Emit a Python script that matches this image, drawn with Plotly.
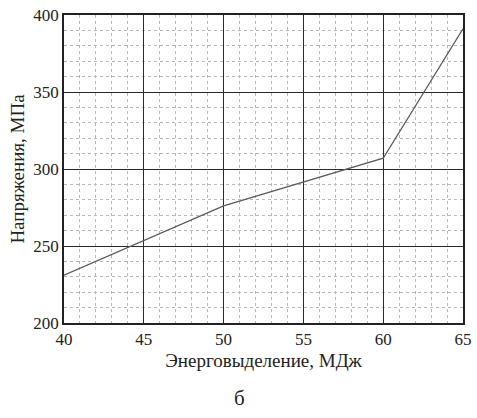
import plotly.graph_objects as go

# Energy release (MJ) vs stress (MPa)
energy = [40, 50, 60, 65]
stress = [231, 276, 307, 391]

x_ticks = [40, 45, 50, 55, 60, 65]
y_ticks = [200, 250, 300, 350, 400]

font_family = "Times New Roman, Liberation Serif, DejaVu Serif, serif"

fig = go.Figure()
fig.add_trace(go.Scatter(
    x=energy, y=stress, mode="lines",
    line=dict(color="#5a5a5a", width=1.3),
    showlegend=False,
))

axis_common = dict(
    showline=True, mirror=True, linecolor="#222", linewidth=1.5,
    showgrid=True, gridcolor="#2a2a2a", gridwidth=1.4,
    ticks="", zeroline=False, automargin=False,
    tickfont=dict(family=font_family, size=17, color="#222"),
)

fig.update_xaxes(
    range=[40, 65], tickvals=x_ticks, ticktext=[str(v) for v in x_ticks],
    minor=dict(dtick=1, showgrid=True, gridcolor="#b8b8b8", griddash="dot", gridwidth=1),
    title=dict(text="Энерговыделение, МДж", font=dict(family=font_family, size=19, color="#222"), standoff=6),
    **axis_common,
)
fig.update_yaxes(
    range=[200, 400], tickvals=y_ticks, ticktext=[str(v) for v in y_ticks],
    minor=dict(dtick=10, showgrid=True, gridcolor="#b8b8b8", griddash="dot", gridwidth=1),
    title=dict(text="Напряжения, МПа", font=dict(family=font_family, size=19, color="#222"), standoff=4),
    **axis_common,
)

fig.add_annotation(
    text="б", xref="paper", yref="paper", x=0.44, y=-0.245,
    showarrow=False, font=dict(family=font_family, size=21, color="#222"),
    yanchor="middle",
)

fig.update_layout(
    width=477, height=418,
    margin=dict(l=64, r=14, t=15, b=95),
    paper_bgcolor="white", plot_bgcolor="white",
    font=dict(family=font_family),
)

fig.write_html("out.html")
